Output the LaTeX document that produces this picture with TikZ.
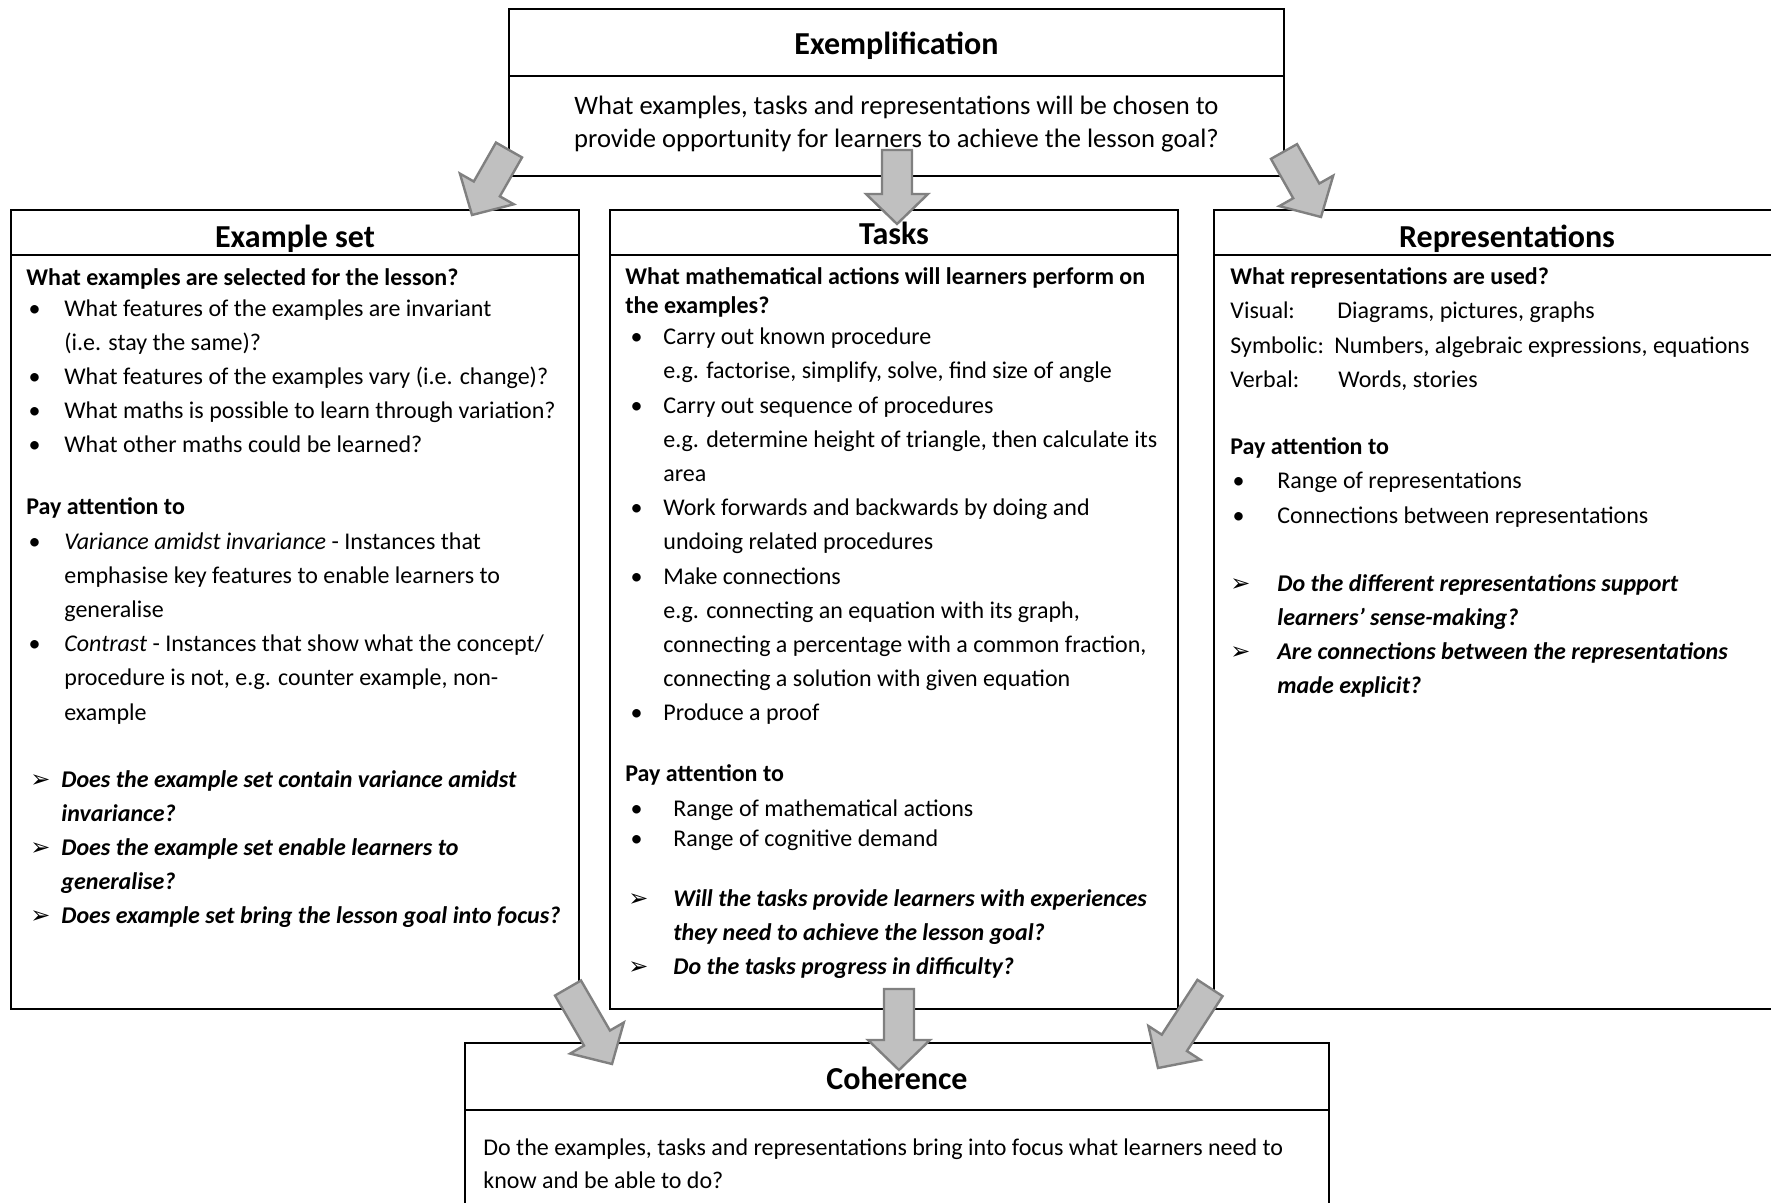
\documentclass[tikz,border=0pt]{standalone}
\usepackage{fontspec}
\setmainfont{Carlito}
\newfontfamily\dingfont{DejaVu Sans}
\usetikzlibrary{calc,positioning}
\definecolor{arrowFill}{RGB}{192,192,192}
\definecolor{arrowLine}{RGB}{128,128,128}
% list markers: indent of the mark, indent of the text, mark
\newcommand{\mrk}[3]{\makebox[#2][l]{\hspace*{#1}#3}}
\newcommand{\bul}[2]{\mrk{#1}{#2}{\textbullet}}
\newcommand{\qarr}[2]{\mrk{#1}{#2}{\dingfont\fontsize{12}{12}\selectfont ➢}}
\newcommand{\qtext}[1]{\textbf{\textit{#1}}}
% grey block arrow from #1 to #2
\newcommand{\blockarrow}[2]{%
  \coordinate (hb) at ($(#2)!15pt!(#1)$);
  \draw[blockarr] ($(#1)!7.5pt!90:(#2)$) -- ($(hb)!7.5pt!90:(#2)$) -- ($(hb)!15.5pt!90:(#2)$) -- (#2)
    -- ($(hb)!15.5pt!-90:(#2)$) -- ($(hb)!7.5pt!-90:(#2)$) -- ($(#1)!7.5pt!-90:(#2)$) -- cycle;}

\begin{document}
\begin{tikzpicture}[x=1pt, y=-1pt, line join=miter,
  frame/.style={draw, line width=1.4pt, rectangle, inner sep=0pt, outer sep=0pt, anchor=north west},
  heading/.style={frame, text height=13pt, text depth=0pt, font=\fontsize{16}{19}\selectfont\bfseries},
  txt/.style={anchor=north west, inner sep=0pt, align=left, font=\fontsize{12}{17.1}\selectfont},
  blockarr/.style={fill=arrowFill, draw=arrowLine, line width=1.2pt}]
  \useasboundingbox (0,0) rectangle (885.5,601.5);
  \clip (0,0) rectangle (885.5,601.5);

  % Exemplification
  \node[heading, minimum width=387.5pt, minimum height=33.5pt, text height=12pt] (extitle) at (254.5,4.5) {Exemplification};
  \node[frame, minimum width=387.5pt, minimum height=50pt] (exbody) at (extitle.south west) {};
  \node[align=center, inner sep=0pt, font=\fontsize{13.3}{16.5}\selectfont] (extext) at ($(exbody.center)+(0,-1)$)
    {What examples, tasks and representations will be chosen to\\provide opportunity for learners to achieve the lesson goal?};

  % Example set
  \node[heading, minimum width=284pt, minimum height=22.5pt, text height=15pt] (estitle) at (5.5,105) {Example set};
  \node[frame, minimum width=284pt, minimum height=377pt] (esbody) at (estitle.south west) {};
  \node[txt] (estext) at ($(esbody.north west)+(7.5,6.4)$) {%
    \textbf{What examples are selected for the lesson?}\\[-1.6pt]
    \bul{1.1pt}{19pt}What features of the examples are invariant\\
    \hspace*{19pt}(i.e. stay the same)?\\
    \bul{1.1pt}{19pt}What features of the examples vary (i.e. change)?\\
    \bul{1.1pt}{19pt}What maths is possible to learn through variation?\\
    \bul{1.1pt}{19pt}What other maths could be learned?\\[13.9pt]
    \textbf{Pay attention to}\\
    \bul{1.1pt}{19pt}\textit{Variance amidst invariance} - Instances that\\
    \hspace*{19pt}emphasise key features to enable learners to\\
    \hspace*{19pt}generalise\\
    \bul{1.1pt}{19pt}\textit{Contrast} - Instances that show what the concept/\\
    \hspace*{19pt}procedure is not, e.g. counter example, non-\\
    \hspace*{19pt}example\\[16.4pt]
    \qarr{2pt}{17.5pt}\qtext{Does the example set contain variance amidst}\\
    \hspace*{17.5pt}\qtext{invariance?}\\
    \qarr{2pt}{17.5pt}\qtext{Does the example set enable learners to}\\
    \hspace*{17.5pt}\qtext{generalise?}\\
    \qarr{2pt}{17.5pt}\qtext{Does example set bring the lesson goal into focus?}};

  % Tasks
  \node[heading, minimum width=284pt, minimum height=22.5pt, text height=12pt] (tktitle) at (305,105) {Tasks};
  \node[frame, minimum width=284pt, minimum height=377pt] (tkbody) at (tktitle.south west) {};
  \node[txt] (tktext) at ($(tkbody.north west)+(7.5,6.2)$) {%
    \textbf{What mathematical actions will learners perform on}\\[-2.6pt]
    \textbf{the examples?}\\[-1.6pt]
    \bul{2.6pt}{19pt}Carry out known procedure\\
    \hspace*{19pt}e.g. factorise, simplify, solve, find size of angle\\
    \bul{2.6pt}{19pt}Carry out sequence of procedures\\
    \hspace*{19pt}e.g. determine height of triangle, then calculate its\\
    \hspace*{19pt}area\\
    \bul{2.6pt}{19pt}Work forwards and backwards by doing and\\
    \hspace*{19pt}undoing related procedures\\
    \bul{2.6pt}{19pt}Make connections\\
    \hspace*{19pt}e.g. connecting an equation with its graph,\\
    \hspace*{19pt}connecting a percentage with a common fraction,\\
    \hspace*{19pt}connecting a solution with given equation\\
    \bul{2.6pt}{19pt}Produce a proof\\[13.4pt]
    \textbf{Pay attention to}\\
    \bul{2.6pt}{24pt}Range of mathematical actions\\[-2.1pt]
    \bul{2.6pt}{24pt}Range of cognitive demand\\[12.9pt]
    \qarr{1.5pt}{24pt}\qtext{Will the tasks provide learners with experiences}\\
    \hspace*{24pt}\qtext{they need to achieve the lesson goal?}\\
    \qarr{1.5pt}{24pt}\qtext{Do the tasks progress in difficulty?}};

  % Representations
  \node[heading, minimum width=293pt, minimum height=22.5pt, text height=15pt] (rptitle) at (607,105) {Representations};
  \node[frame, minimum width=293pt, minimum height=377pt] (rpbody) at (rptitle.south west) {};
  \node[txt] (rptext) at ($(rpbody.north west)+(8,6.2)$) {%
    \textbf{What representations are used?}\\
    \makebox[53.5pt][l]{Visual:}Diagrams, pictures, graphs\\
    \makebox[52pt][l]{Symbolic:}Numbers, algebraic expressions, equations\\
    \makebox[54pt][l]{Verbal:}Words, stories\\[16.6pt]
    \textbf{Pay attention to}\\
    \bul{1.1pt}{23.5pt}Range of representations\\
    \bul{1.1pt}{23.5pt}Connections between representations\\[16.9pt]
    \qarr{0pt}{23.5pt}\qtext{Do the different representations support}\\
    \hspace*{23.5pt}\qtext{learners’ sense-making?}\\
    \qarr{0pt}{23.5pt}\qtext{Are connections between the representations}\\
    \hspace*{23.5pt}\qtext{made explicit?}};

  % Coherence
  \node[heading, minimum width=432pt, minimum height=33.5pt] (cotitle) at (232.5,521.5) {Coherence};
  \node[frame, minimum width=432pt, minimum height=70pt] (cobody) at (cotitle.south west) {};
  \node[txt, font=\fontsize{12}{16.5}\selectfont] (cotext) at ($(cobody.north west)+(9,14)$)
    {Do the examples, tasks and representations bring into focus what learners need to\\know and be able to do?};

  % arrow ends
  \coordinate (a1s) at ($(exbody.south west)+(0,-13)$);
  \coordinate (a1e) at ($(estitle.north east)+(-53.5,2.5)$);
  \coordinate (a2s) at ($(exbody.south)+(0.25,-13)$);
  \coordinate (a2e) at ($(tktitle.north)+(1.5,7)$);
  \coordinate (a3s) at ($(exbody.south east)+(0,-12.25)$);
  \coordinate (a3e) at ($(rptitle.north west)+(53.5,3.5)$);
  \coordinate (b1s) at ($(esbody.south east)+(-5.5,-10.5)$);
  \coordinate (b1e) at ($(cotitle.north west)+(73.5,10.5)$);
  \coordinate (b2s) at ($(tkbody.south)+(2.5,-10)$);
  \coordinate (b2e) at ($(cotitle.north)+(1,13.5)$);
  \coordinate (b3s) at ($(rpbody.south west)+(-2,-10.5)$);
  \coordinate (b3e) at ($(cotitle.north east)+(-85.5,12.5)$);

  \blockarrow{a1s}{a1e}
  \blockarrow{a2s}{a2e}
  \blockarrow{a3s}{a3e}
  \blockarrow{b1s}{b1e}
  \blockarrow{b2s}{b2e}
  \blockarrow{b3s}{b3e}
\end{tikzpicture}
\end{document}
